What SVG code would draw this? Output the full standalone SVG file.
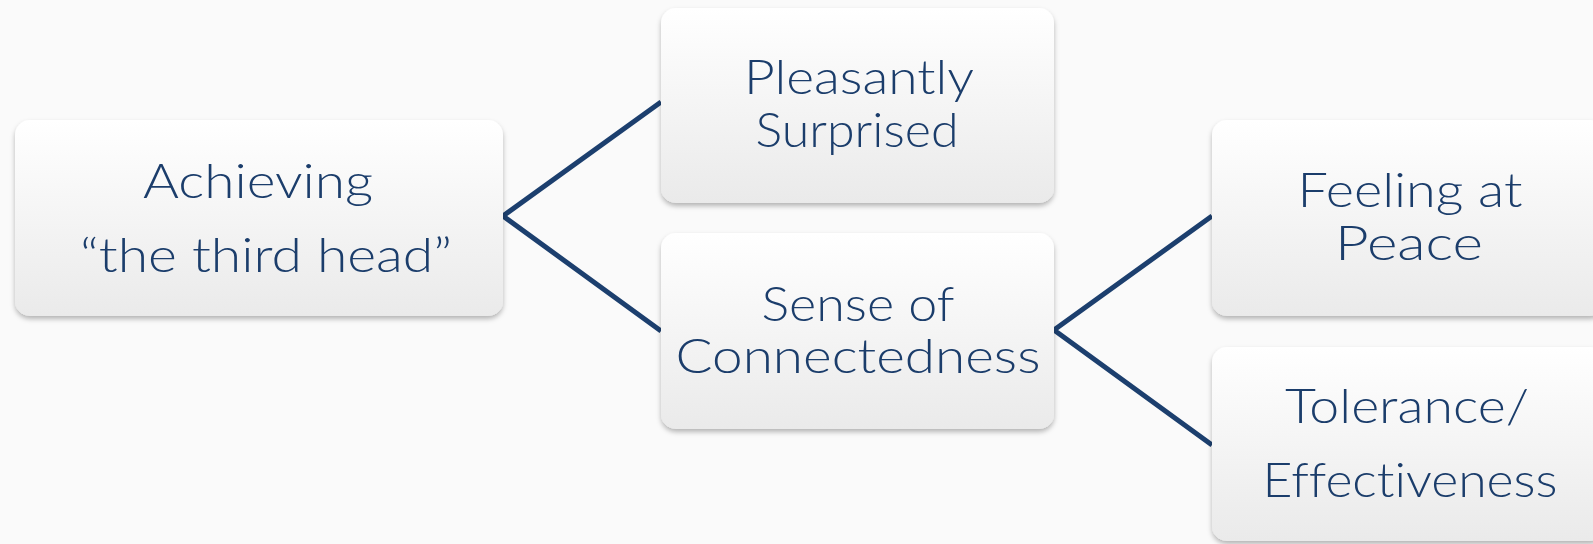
<svg xmlns="http://www.w3.org/2000/svg" width="1593" height="544" viewBox="0 0 1593 544">
  <defs>
    <linearGradient id="boxGrad" x1="0" y1="0" x2="0" y2="1">
      <stop offset="0" stop-color="#ffffff"/>
      <stop offset="1" stop-color="#eaeaea"/>
    </linearGradient>
    <filter id="shadow" x="-5%" y="-5%" width="110%" height="115%">
      <feDropShadow dx="0" dy="3" stdDeviation="2.5" flood-color="#000000" flood-opacity="0.28"/>
    </filter>
    <style>
      .box { fill: url(#boxGrad); filter: url(#shadow); }
      .lbl { font-family: Lato, "Liberation Sans", Arial, sans-serif; font-weight: 300; font-size: 48px; fill: #1b3d6b; text-anchor: middle; font-variant-ligatures: none; }
      .conn { fill: none; stroke: #1c3f6e; stroke-width: 5; stroke-linejoin: miter; }
    </style>
  </defs>
  <rect x="0" y="0" width="1593" height="544" fill="#fafafa"/>

  <g id="connectors">
    <polyline class="conn" points="661,102 503,216 661,331"/>
    <polyline class="conn" points="1212,216 1054,330 1212,445"/>
  </g>

  <g id="node-achieving">
    <rect class="box" x="15" y="120" width="488" height="196" rx="15" ry="15"/>
    <text class="lbl" x="258" y="198" textLength="230" lengthAdjust="spacingAndGlyphs">Achieving</text>
    <text class="lbl" x="266" y="272" textLength="372" lengthAdjust="spacingAndGlyphs">“the third head”</text>
  </g>

  <g id="node-pleasantly">
    <rect class="box" x="661" y="8" width="393" height="195" rx="15" ry="15"/>
    <text class="lbl" x="859" y="94" textLength="230" lengthAdjust="spacingAndGlyphs">Pleasantly</text>
    <text class="lbl" x="857" y="147" textLength="203" lengthAdjust="spacingAndGlyphs">Surprised</text>
  </g>

  <g id="node-connectedness">
    <rect class="box" x="661" y="233" width="393" height="196" rx="15" ry="15"/>
    <text class="lbl" x="858" y="321" textLength="193" lengthAdjust="spacingAndGlyphs">Sense of</text>
    <text class="lbl" x="858" y="373" textLength="365" lengthAdjust="spacingAndGlyphs">Connectedness</text>
  </g>

  <g id="node-peace">
    <rect class="box" x="1212" y="120" width="393" height="196" rx="15" ry="15"/>
    <text class="lbl" x="1410" y="207" textLength="225" lengthAdjust="spacingAndGlyphs">Feeling at</text>
    <text class="lbl" x="1409" y="260" textLength="148" lengthAdjust="spacingAndGlyphs">Peace</text>
  </g>

  <g id="node-tolerance">
    <rect class="box" x="1212" y="347" width="393" height="194" rx="15" ry="15"/>
    <text class="lbl" x="1407" y="423" textLength="244" lengthAdjust="spacingAndGlyphs">Tolerance/</text>
    <text class="lbl" x="1410" y="497" textLength="295" lengthAdjust="spacingAndGlyphs">Effectiveness</text>
  </g>
</svg>
